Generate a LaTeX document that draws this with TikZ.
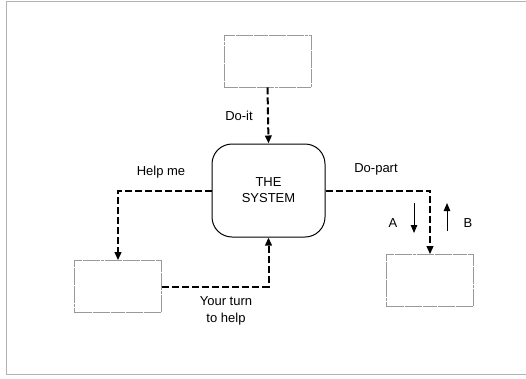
\documentclass[tikz,border=0pt]{standalone}
\usepackage{fontspec}
\setmainfont{Liberation Sans}
\usetikzlibrary{arrows.meta}
\begin{document}
\begin{tikzpicture}[x=1pt,y=-1pt,
  frame/.style={draw=black!30,line width=0.6pt},
  box/.style={draw=black!40,line width=0.6pt,dash pattern=on 14pt off 0.6pt on 3pt off 0.6pt,minimum width=87pt,minimum height=52pt,inner sep=0pt},
  sysbox/.style={draw=black,line width=1pt,rounded corners=20pt,minimum width=113pt,minimum height=93pt,align=center,inner sep=0pt},
  conn/.style={draw=black,line width=2pt,dash pattern=on 7pt off 3pt,-{Triangle[length=8pt,width=6.5pt]}},
  small/.style={draw=black,line width=0.9pt,-{Triangle[length=8pt,width=6.5pt]}},
  lbl/.style={font=\fontsize{13}{15}\selectfont,inner sep=0pt,align=center}]
\useasboundingbox (0,0) rectangle (526,378);
\fill[white] (0,0) rectangle (526,378);
% page frame
\draw[frame] (526,1) -- (6,1) -- (6,374) -- (526,374);
% boxes
\node[box] (tbox) at (267.5,61) {};
\node[box] (lbox) at (118,286.5) {};
\node[box] (rbox) at (430,280.5) {};
\node[sysbox,lbl] (sys) at (268.5,190.5) {THE\\[1pt]SYSTEM};
% connectors
\draw[conn] (tbox.south) -- (sys.north);
\draw[conn] (sys.west) -| (lbox.north);
\draw[conn] (lbox.east) -| (sys.south);
\draw[conn] (sys.east) -| (rbox.north);
% small direction arrows
\coordinate (a1) at (414,203);
\coordinate (a2) at (414,233);
\coordinate (b1) at (447,231);
\coordinate (b2) at (447,203);
\draw[small] (a1) -- (a2);
\draw[small] (b1) -- (b2);
% labels
\node[lbl] (doit) at (239,116) {Do-it};
\node[lbl] (helpme) at (161,172) {Help me};
\node[lbl] (dopart) at (376,169) {Do-part};
\node[lbl] (turn) at (226,311) {Your turn\\[2pt]to help};
\node[lbl] (la) at (393,223) {A};
\node[lbl] (lb) at (468,223) {B};
\end{tikzpicture}
\end{document}
